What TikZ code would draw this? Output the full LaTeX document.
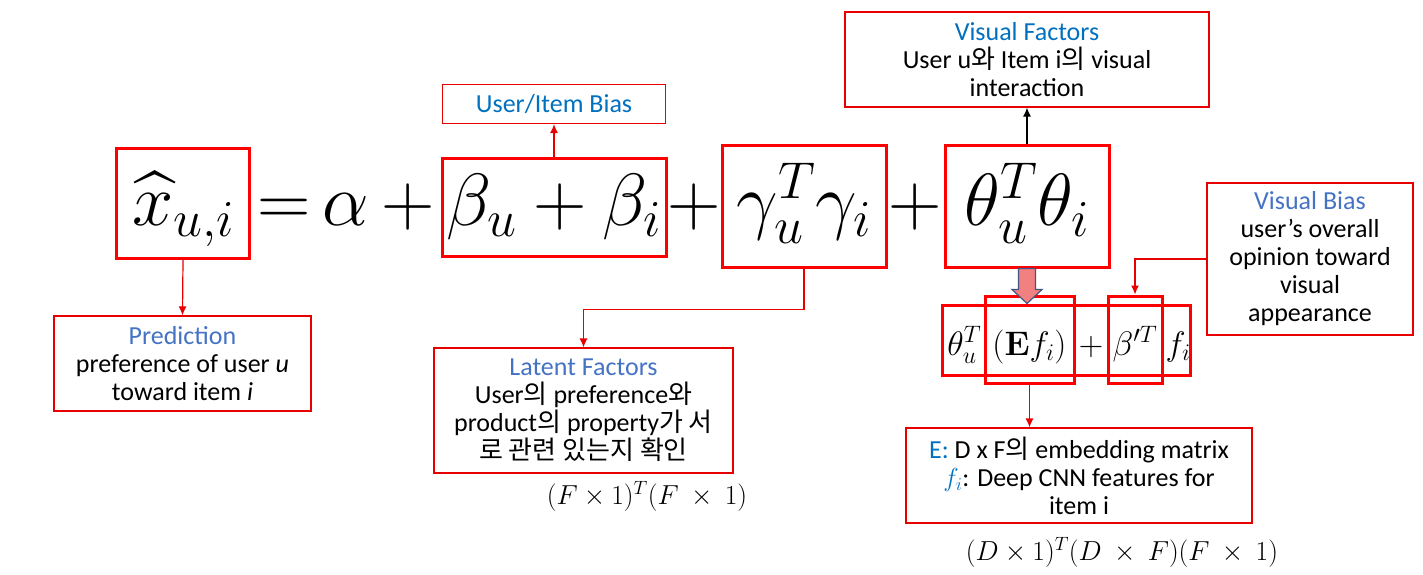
\RequirePackage{fix-cm}
\documentclass[tikz,border=0pt]{standalone}
\usepackage{amsmath,amssymb}
\usepackage[no-math]{fontspec}
\setmainfont{Carlito}
\newfontfamily\kr{Noto Sans CJK KR}
\usetikzlibrary{arrows.meta}
\usetikzlibrary{calc}

\definecolor{boxred}{RGB}{255,0,0}
\definecolor{linered}{RGB}{232,0,0}
\definecolor{titleblue}{RGB}{0,112,192}
\definecolor{headblue}{RGB}{68,114,196}
\definecolor{arrowpink}{RGB}{241,128,128}
\definecolor{arrowedge}{RGB}{68,84,130}

\newcommand{\bigmath}{\fontsize{74}{80}\selectfont}
\newcommand{\midmath}{\fontsize{34}{38}\selectfont}
\newcommand{\dimmath}{\fontsize{27.5}{30}\selectfont}
\newcommand{\lbl}{\fontsize{26}{28}\selectfont}

\tikzset{
  termbox/.style={draw=boxred, line width=3pt, inner sep=0pt, anchor=base},
  notebox/.style={draw=linered, line width=1.2pt, inner sep=0pt, align=center, font=\lbl},
  redarrow/.style={draw=linered, line width=1.2pt, -{Latex[length=9pt,width=8pt]}},
  blackarrow/.style={draw=black, line width=1.2pt, -{Latex[length=9pt,width=8pt]}},
  blockarrow/.style={fill=arrowpink, draw=arrowedge, line width=1.2pt, line join=miter}
}

\begin{document}
\begin{tikzpicture}[x=1pt,y=-1pt]
      \useasboundingbox (0,0) rectangle (1423,574);

      \node[termbox, font=\bigmath, minimum width=133pt, text height=77pt, text depth=33pt] (xhat) at (183,225) {$\widehat{x}_{u,i}$};
      \node[anchor=base, font=\bigmath, inner sep=0pt] (eq) at (346,225) {${=}\,\alpha\,{+}$};
      \node[termbox, font=\bigmath, minimum width=224pt, text height=67pt, text depth=31pt] (bias) at (554,225) {$\beta_u+\beta_i$};
      \node[anchor=base, font=\bigmath, inner sep=0pt] (plusa) at (694,225) {$+$};
      \node[termbox, font=\bigmath, minimum width=164pt, text height=80pt, text depth=42pt] (latent) at (804,225) {$\gamma_u^T\gamma_i$};
      \node[anchor=base, font=\bigmath, inner sep=0pt] (plusb) at (915,225) {$+$};
      \node[termbox, font=\bigmath, minimum width=164pt, text height=80pt, text depth=42pt] (visual) at (1027,225) {$\theta_u^T\theta_i$};

      \node[termbox, anchor=center, minimum width=248pt, minimum height=70pt] (outer) at (1066,340) {};
      \node[termbox, font=\midmath, minimum width=89pt, text height=59pt, text depth=28pt] (ef) at (1029.5,355) {$(\mathbf{E}f_i)$};
      \node[termbox, font=\midmath, minimum width=54pt, text height=59pt, text depth=28pt] (bp) at (1135,355) {$\beta'^T$};
      \node[anchor=base east, font=\midmath, inner sep=2pt] (th) at (ef.base west) {$\theta_u^T$};
      \node[anchor=base, font=\midmath, inner sep=0pt] (pl) at ($(ef.base east)!.5!(bp.base west)$) {$+$};
      \node[anchor=base west, font=\midmath, inner sep=2pt] (fi) at (bp.base east) {$f_i$};

      \node[notebox, minimum width=223pt, minimum height=39pt, text=titleblue] (biasnote) at (554,104) {User/Item Bias};
      \node[notebox, minimum width=364pt, minimum height=95pt] (visualnote) at (1027,59.5) {\textcolor{titleblue}{Visual Factors}\\User u{\kr 와} Item i{\kr 의} visual\\interaction};
      \node[notebox, minimum width=206pt, minimum height=152pt] (vbiasnote) at (1310,259) {\textcolor{headblue}{Visual Bias}\\user’s overall\\opinion toward\\visual\\appearance};
      \node[notebox, minimum width=257pt, minimum height=95pt] (prednote) at (182.5,363.5) {\textcolor{headblue}{Prediction}\\preference of user \textit{u}\\toward item \textit{i}};
      \node[notebox, minimum width=299pt, minimum height=125pt] (latentnote) at (583.5,410.5) {\textcolor{headblue}{Latent Factors}\\User{\kr 의} preference{\kr 와}\\product{\kr 의} property{\kr 가 서}\\{\kr 로 관련 있는지 확인}};
      \node[notebox, minimum width=346pt, minimum height=95pt] (embnote) at (1079,475.5) {\textcolor{titleblue}{E:} D x F{\kr 의} embedding matrix\\\textcolor{titleblue}{$f_i$}: Deep CNN features for\\item i};

      \node[font=\dimmath] (latentdim) at (647,496) {$(F\times1)^T(F\ \times\ 1)$};
      \node[font=\dimmath] (visualdim) at (1122,552) {$(D\times1)^T(D\ \times\ F)(F\ \times\ 1)$};

      \draw[redarrow] (bias.north) -- (biasnote.south);
      \draw[blackarrow] (visual.north) -- (visualnote.south);
      \draw[redarrow] (xhat.south) -- (prednote.north);
      \draw[redarrow] (latent.south) -- ++(0,41) -| (latentnote.north);
      \draw[redarrow] (vbiasnote.west) -| (bp.north);
      \draw[redarrow] (ef.south) -- (ef.south |- embnote.north);
      \draw[blockarrow, shift={(visual.south)}] (-8.5,0) -- (-8.5,21) -- (-15,21) -- (0,35) -- (15,21) -- (8.5,21) -- (8.5,0) -- cycle;
\end{tikzpicture}
\end{document}
